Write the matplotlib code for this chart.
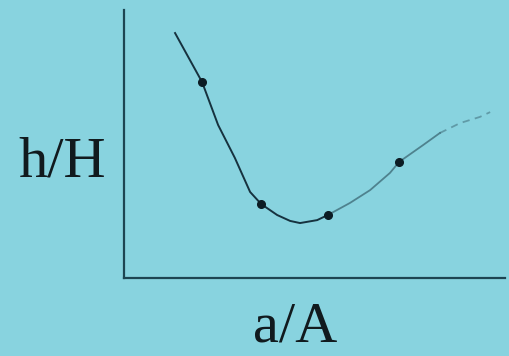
import matplotlib
matplotlib.use("Agg")
import matplotlib.pyplot as plt

bg = "#88d3df"
ink = "#16323f"

# sketched curve of h/H against a/A (arbitrary 0-10 units)
a_vals = [1.34, 2.05, 2.47, 2.91, 3.31, 3.60, 4.02, 4.36, 4.62, 5.07, 5.35,
          5.93, 6.46, 6.98, 7.22, 7.85, 8.29, 8.82, 9.34, 9.61]
h_vals = [9.14, 7.31, 5.71, 4.48, 3.21, 2.76, 2.35, 2.13, 2.05, 2.16, 2.35,
          2.80, 3.28, 3.92, 4.33, 4.96, 5.41, 5.78, 6.01, 6.19]

# measured points on the curve
dot_a = [2.05, 3.60, 5.35, 7.22]
dot_h = [7.31, 2.76, 2.35, 4.33]

fig = plt.figure(figsize=(5.10, 3.56), dpi=100, facecolor=bg)
ax = fig.add_axes([124 / 510, 78 / 356, 381 / 510, 268 / 356])
ax.set_facecolor(bg)
ax.set_xlim(0, 10)
ax.set_ylim(0, 10)

# dark solid part, then the fainter tail
ax.plot(a_vals[:11], h_vals[:11], color=ink, lw=1.4, solid_joinstyle="round")
ax.plot(a_vals[10:17], h_vals[10:17], color=ink, lw=1.3, alpha=0.5,
        solid_joinstyle="round")
ax.plot(a_vals[16:], h_vals[16:], color=ink, lw=1.3, alpha=0.35,
        ls=(0, (4, 3)))
ax.plot(dot_a, dot_h, "o", color="#0c1c24", ms=5.5, ls="none")

for side in ["top", "right"]:
    ax.spines[side].set_visible(False)
for side in ["left", "bottom"]:
    ax.spines[side].set_color("#1d4552")
    ax.spines[side].set_linewidth(1.6)
ax.set_xticks([])
ax.set_yticks([])

fig.text(62 / 510, 1 - 177 / 356, "h/H", family="Liberation Serif",
         fontsize=42, color="#111a1e", ha="center", va="baseline")
fig.text(295 / 510, 1 - 342 / 356, "a/A", family="Liberation Serif",
         fontsize=42, color="#111a1e", ha="center", va="baseline")

fig.savefig("out.png", dpi=100, facecolor=bg)
